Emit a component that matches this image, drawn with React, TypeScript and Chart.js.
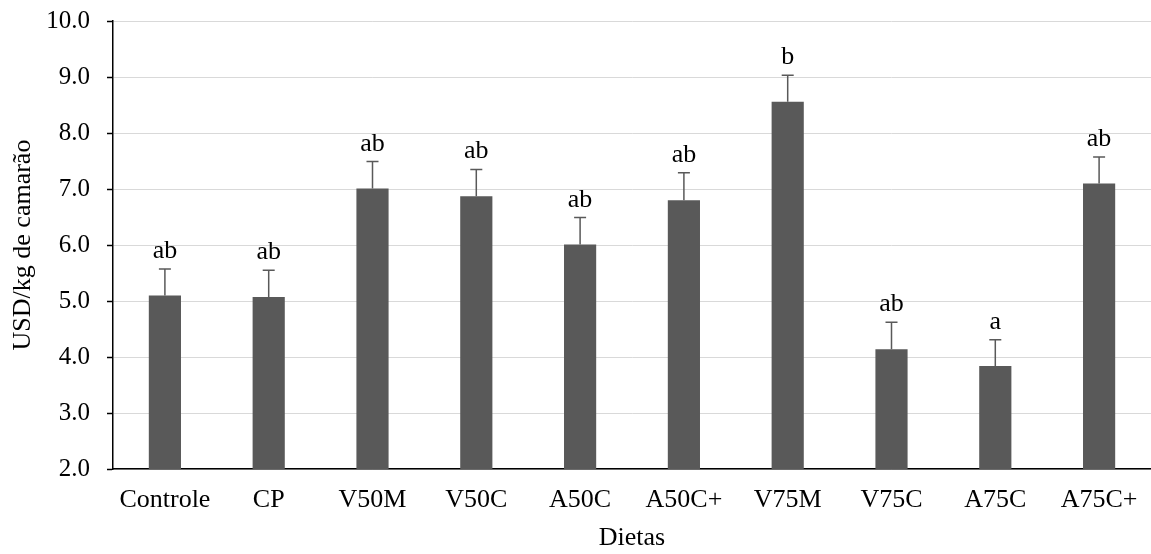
import React, { useEffect, useRef } from "react";
import { Chart, registerables } from "chart.js";

Chart.register(...registerables);

const categories = ["Controle", "CP", "V50M", "V50C", "A50C", "A50C+", "V75M", "V75C", "A75C", "A75C+"];
const values = [5.1, 5.07, 7.01, 6.87, 6.01, 6.8, 8.56, 4.14, 3.84, 7.1];
const errors = [0.47, 0.48, 0.48, 0.48, 0.48, 0.49, 0.47, 0.48, 0.47, 0.47];
const letters = ["ab", "ab", "ab", "ab", "ab", "ab", "b", "ab", "a", "ab"];
const yTicks = [2, 3, 4, 5, 6, 7, 8, 9, 10];

const FONT = "'Liberation Serif', 'Times New Roman', serif";
const BAR = "#595959";

const errorBarPlugin = {
  id: "errorBars",
  afterDatasetsDraw(chart: any) {
    const { ctx, scales } = chart;
    const meta = chart.getDatasetMeta(0);
    const y = scales.y;
    ctx.save();
    meta.data.forEach((bar: any, i: number) => {
      const x = bar.x;
      const yBar = y.getPixelForValue(values[i]);
      const yTop = y.getPixelForValue(values[i] + errors[i]);
      ctx.strokeStyle = BAR;
      ctx.lineWidth = 1.5;
      ctx.beginPath();
      ctx.moveTo(x, yBar);
      ctx.lineTo(x, yTop);
      ctx.moveTo(x - 6, yTop);
      ctx.lineTo(x + 6, yTop);
      ctx.stroke();
      ctx.fillStyle = "#000";
      ctx.font = `26px ${FONT}`;
      ctx.textAlign = "center";
      ctx.textBaseline = "alphabetic";
      ctx.fillText(letters[i], x, yTop - 11);
    });
    ctx.restore();
  },
};

export default function App() {
  const ref = useRef<HTMLCanvasElement>(null);
  useEffect(() => {
    if (!ref.current) return;
    const chart = new Chart(ref.current, {
      type: "bar",
      data: {
        labels: categories,
        datasets: [
          {
            data: values,
            backgroundColor: BAR,
            borderWidth: 0,
            barPercentage: 0.31,
            categoryPercentage: 1,
          },
        ],
      },
      options: {
        responsive: false,
        animation: false,
        layout: { padding: { top: 21, right: 0, left: 0, bottom: 0 } },
        plugins: { legend: { display: false }, tooltip: { enabled: false } },
        scales: {
          x: {
            grid: { display: false, drawTicks: false },
            border: { display: true, color: "#000", width: 1.5 },
            ticks: { color: "#000", font: { family: FONT, size: 26 }, padding: 16, maxRotation: 0, autoSkip: false },
            title: { display: true, text: "Dietas", color: "#000", font: { family: FONT, size: 26 }, padding: { top: 0, bottom: 0 } },
            afterFit(scale: any) {
              scale.height = 85;
              scale.paddingLeft = 0;
              scale.paddingRight = 0;
            },
          },
          y: {
            min: 2,
            max: 10,
            afterBuildTicks(scale: any) {
              scale.ticks = yTicks.map((v) => ({ value: v }));
            },
            grid: { color: "#d9d9d9", lineWidth: 1, tickColor: "#000", tickLength: 6, tickWidth: 1.5 },
            border: { display: true, color: "#000", width: 1.5 },
            ticks: {
              color: "#000",
              font: { family: FONT, size: 25 },
              padding: 17,
              callback: (v: any) => Number(v).toFixed(1),
            },
            title: {
              display: true,
              text: "USD/kg de camarão",
              color: "#000",
              font: { family: FONT, size: 26 },
              padding: { top: 8, bottom: 0 },
            },
            afterFit(scale: any) {
              scale.width = 113;
              scale.paddingTop = 0;
              scale.paddingBottom = 0;
            },
          },
        },
      },
      plugins: [errorBarPlugin],
    });
    return () => chart.destroy();
  }, []);
  return (
    <div style={{ position: "absolute", left: 0, top: 0, width: 1151, height: 554, background: "#fff" }}>
      <canvas ref={ref} width={1151} height={554} style={{ display: "block" }} />
    </div>
  );
}
